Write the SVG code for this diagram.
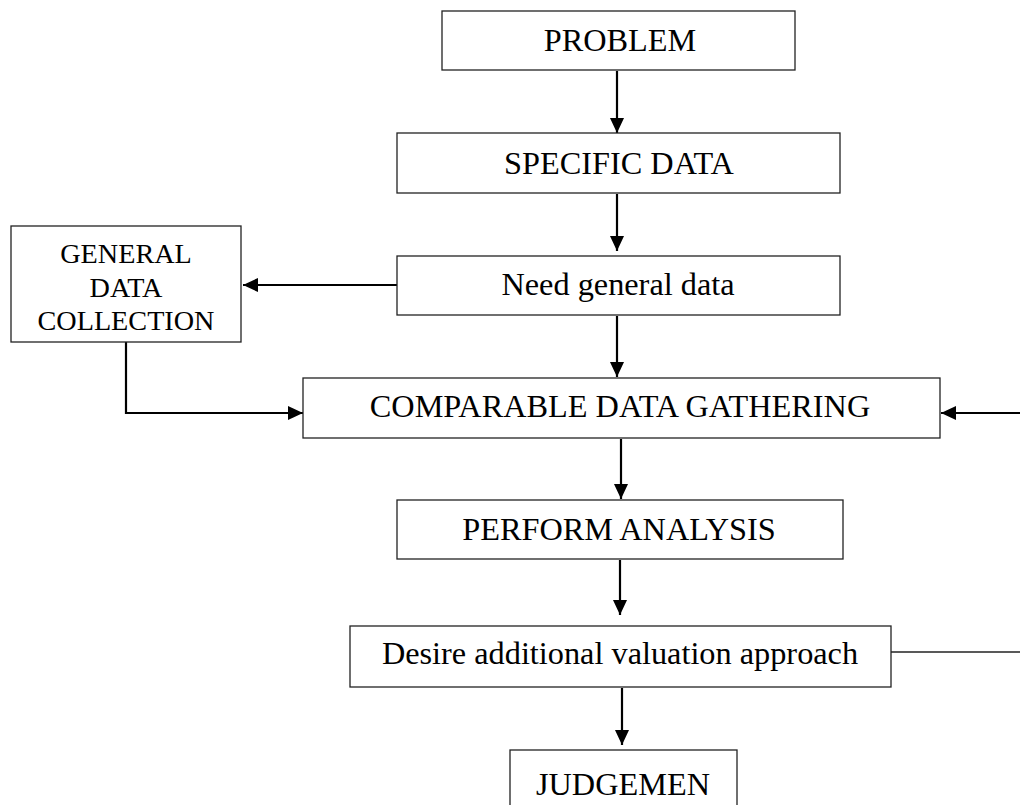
<svg xmlns="http://www.w3.org/2000/svg" width="1020" height="805" viewBox="0 0 1020 805">
  <style>
    .box { fill: #ffffff; stroke: #222222; stroke-width: 1.3; }
    .lbl { font-family: "Liberation Serif", "Times New Roman", serif; font-size: 32.3px; fill: #000000; text-anchor: middle; }
    .small { font-size: 28.2px; }
    .arrow { fill: none; stroke: #000000; stroke-width: 2.2; }
    .plain { fill: none; stroke: #222222; stroke-width: 1.3; }
  </style>
  <defs>
    <marker id="head" markerUnits="userSpaceOnUse" markerWidth="16" markerHeight="14" refX="15" refY="7" orient="auto">
      <path d="M0,0 L15,7 L0,14 Z" fill="#000000"/>
    </marker>
  </defs>
  <rect width="1020" height="805" fill="#ffffff"/>

  <g id="connectors">
    <line class="arrow" x1="617" y1="71" x2="617" y2="133" marker-end="url(#head)"/>
    <line class="arrow" x1="617" y1="194" x2="617" y2="251" marker-end="url(#head)"/>
    <line class="arrow" x1="397" y1="285" x2="243" y2="285" marker-end="url(#head)"/>
    <line class="arrow" x1="617" y1="316" x2="617" y2="377" marker-end="url(#head)"/>
    <polyline class="arrow" points="126,342 126,413 303,413" marker-end="url(#head)"/>
    <line class="arrow" x1="1022" y1="413" x2="941" y2="413" marker-end="url(#head)"/>
    <line class="arrow" x1="621" y1="439" x2="621" y2="499" marker-end="url(#head)"/>
    <line class="arrow" x1="620" y1="560" x2="620" y2="615" marker-end="url(#head)"/>
    <line class="arrow" x1="622" y1="688" x2="622" y2="745" marker-end="url(#head)"/>
    <line class="plain" x1="891" y1="652" x2="1022" y2="652"/>
  </g>

  <g id="problem">
    <rect class="box" x="442" y="11" width="353" height="59"/>
    <text class="lbl" x="620" y="51">PROBLEM</text>
  </g>
  <g id="specific-data">
    <rect class="box" x="397" y="133" width="443" height="60"/>
    <text class="lbl" x="619" y="174">SPECIFIC DATA</text>
  </g>
  <g id="need-general-data">
    <rect class="box" x="397" y="256" width="443" height="59"/>
    <text class="lbl" x="618" y="295">Need general data</text>
  </g>
  <g id="general-data-collection">
    <rect class="box" x="11" y="226" width="230" height="116"/>
    <text class="lbl small" x="126" y="263">GENERAL</text>
    <text class="lbl small" x="126" y="297">DATA</text>
    <text class="lbl small" x="126" y="330">COLLECTION</text>
  </g>
  <g id="comparable-data-gathering">
    <rect class="box" x="303" y="378" width="637" height="60"/>
    <text class="lbl" x="620" y="417">COMPARABLE DATA GATHERING</text>
  </g>
  <g id="perform-analysis">
    <rect class="box" x="397" y="500" width="446" height="59"/>
    <text class="lbl" x="619" y="540">PERFORM ANALYSIS</text>
  </g>
  <g id="desire-additional-valuation-approach">
    <rect class="box" x="350" y="626" width="541" height="61"/>
    <text class="lbl" x="620" y="664">Desire additional valuation approach</text>
  </g>
  <g id="judgement">
    <rect class="box" x="510" y="750" width="227" height="70"/>
    <text class="lbl" x="623" y="795">JUDGEMEN</text>
  </g>
</svg>
